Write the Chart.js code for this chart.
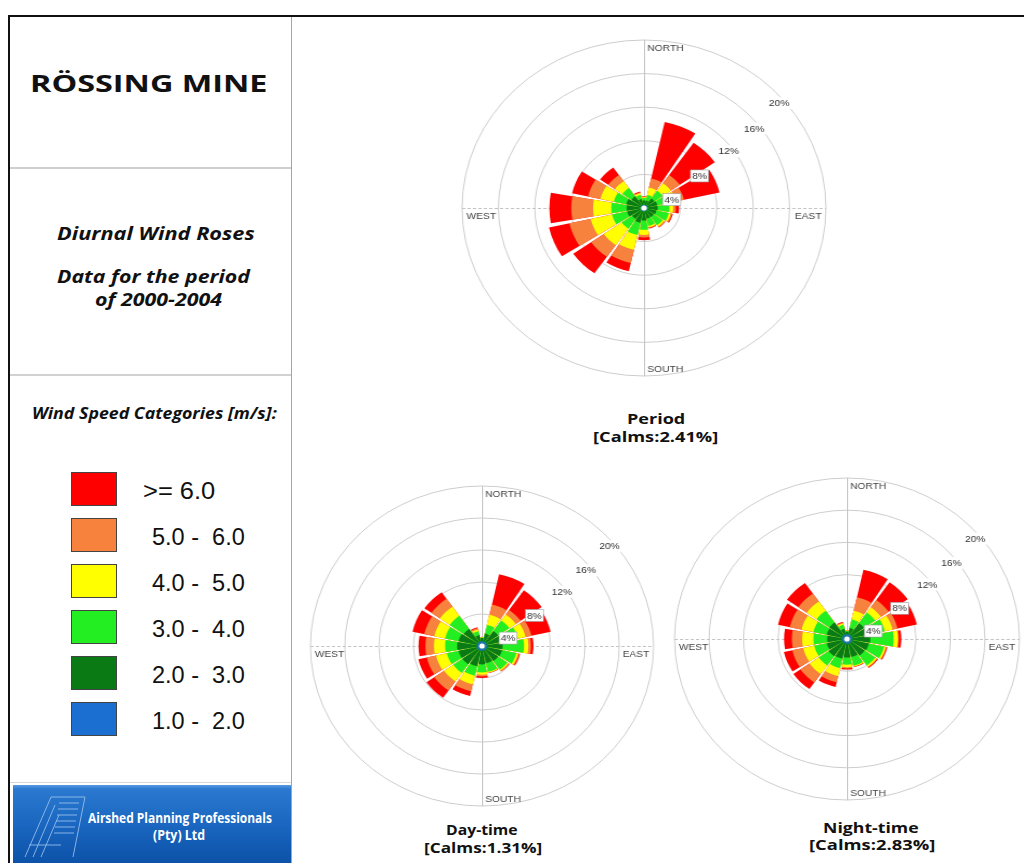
<!DOCTYPE html>
<html><head><meta charset="utf-8">
<script src="https://cdn.jsdelivr.net/npm/chart.js@4.4.1/dist/chart.umd.min.js"></script>
<style>
html,body{margin:0;padding:0;background:#fff;}
body{width:1024px;height:863px;overflow:hidden;position:relative;font-family:"Open Sans",sans-serif;}
.abs{position:absolute;}
.t{position:absolute;white-space:pre;transform-origin:0 50%;line-height:1;}
.rose{position:absolute;transform-origin:50% 50%;}
</style></head><body>
<script>
// ---------- DATA ----------
const directions = ['N','NNE','NE','ENE','E','ESE','SE','SSE','S','SSW','SW','WSW','W','WNW','NW','NNW'];
const speedCategories = ['1.0 -  2.0','2.0 -  3.0','3.0 -  4.0','4.0 -  5.0','5.0 -  6.0','>= 6.0'];
const categoryColors = ['#1b6fd0','#0a7a14','#22ee22','#ffff00','#f7823e','#ff0000'];
const tickValues = [4, 8, 12, 16, 20];
const tickLabels = ['4%', '8%', '12%', '16%', '20%'];
const compassLabels = ['NORTH', 'EAST', 'SOUTH', 'WEST'];

// Period (frequency %, per direction N..NNW)
const period_1_2 = [0.4,0.4,0.4,0.4,0.4,0.4,0.4,0.4,0.4,0.4,0.4,0.4,0.4,0.4,0.4,0.4];
const period_2_3 = [0.5,0.5,1.0,1.1,1.1,1.0,0.9,0.9,1.1,1.4,1.2,1.5,1.5,1.6,1.3,0.7];
const period_3_4 = [0.3,0.7,1.1,1.1,1.3,1.4,1.2,0.9,1.1,1.5,1.4,1.7,1.7,1.4,1.2,0.5];
const period_4_5 = [0.1,0.9,1.1,1.0,0.4,0.2,0.2,0.15,0.6,1.8,2.4,2.4,2.0,1.5,1.0,0.2];
const period_5_6 = [0.05,1.1,1.2,0.9,0.3,0.15,0.1,0.1,0.3,1.6,1.7,2.4,2.4,1.4,0.9,0.1];
const period_6up = [0.05,6.9,4.7,4.0,0.35,0.1,0.05,0.05,0.35,1.0,2.4,2.3,2.4,1.8,1.1,0.1];

// Day-time
const day_1_2 = [0.6,0.6,0.6,0.6,0.6,0.6,0.6,0.6,0.6,0.6,0.6,0.6,0.6,0.6,0.6,0.6];
const day_2_3 = [0.4,1.0,1.7,1.8,1.8,1.8,1.7,1.6,1.7,2.0,2.2,2.2,2.3,2.2,2.0,0.8];
const day_3_4 = [0.05,1.1,1.6,1.9,2.5,1.7,1.3,1.1,1.0,1.2,1.3,1.4,1.4,1.6,2.0,0.5];
const day_4_5 = [0.05,1.3,0.9,0.9,0.5,0.2,0.15,0.1,0.3,1.1,1.3,1.3,1.3,1.3,1.4,0.2];
const day_5_6 = [0.0,1.3,0.7,0.7,0.3,0.15,0.1,0.05,0.2,0.9,1.4,1.1,1.0,1.2,1.2,0.2];
const day_6up = [0.05,3.9,3.0,2.3,0.3,0.1,0.05,0.05,0.2,0.6,1.1,1.0,0.8,1.4,1.0,0.1];

// Night-time
const night_1_2 = [0.6,0.6,0.6,0.6,0.6,0.6,0.6,0.6,0.6,0.6,0.6,0.6,0.6,0.6,0.6,0.6];
const night_2_3 = [0.3,0.8,1.8,1.9,2.1,2.0,1.9,1.7,1.7,1.9,2.0,1.8,1.7,1.8,1.9,0.7];
const night_3_4 = [0.1,1.1,1.6,2.0,2.7,1.8,1.5,1.1,0.9,1.2,1.4,1.5,1.6,1.6,1.8,0.5];
const night_4_5 = [0.05,1.1,0.8,0.9,0.5,0.2,0.2,0.1,0.3,1.0,1.3,1.3,1.3,1.4,1.4,0.2];
const night_5_6 = [0.05,1.7,1.1,0.6,0.1,0.1,0.1,0.05,0.15,0.8,1.3,1.3,1.2,1.4,1.2,0.1];
const night_6up = [0.0,3.5,2.7,2.3,0.3,0.1,0.1,0.05,0.15,0.6,1.0,1.0,0.9,1.4,1.6,0.1];

const captions = [['Period','[Calms:2.41%]'],['Day-time','[Calms:1.31%]'],['Night-time','[Calms:2.83%]']];

// ---------- STYLE / LAYOUT ----------
const PETAL = 20, GAP = 2.5;
const GRID = '#cdcdcd';
const TICK_ANGLE = [72, 58, 54, 52, 50];
const TICK_FRAC = [0.8, 0.9, 0.96, 0.96, 0.97];

function txt(str, x, y, w, font, opts = {}) {
  const el = document.createElement('div');
  el.className = 't';
  el.textContent = str;
  el.style.font = font;
  el.style.lineHeight = '1';
  el.style.color = opts.color || '#111';
  document.body.appendChild(el);
  const ow = el.offsetWidth, oh = el.offsetHeight;
  const left = opts.align === 'left' ? x : x - w / 2;
  el.style.left = left + 'px';
  el.style.top = (y - oh / 2) + 'px';
  el.style.transform = 'scaleX(' + (w / ow) + ')';
  return el;
}
function box(x, y, w, h, css) {
  const el = document.createElement('div');
  el.className = 'abs';
  el.style.left = x + 'px'; el.style.top = y + 'px';
  el.style.width = w + 'px'; el.style.height = h + 'px';
  Object.assign(el.style, css);
  document.body.appendChild(el);
  return el;
}

// frame
box(8, 15, 1016, 2, {background: '#111'});
box(8, 15, 2, 848, {background: '#111'});
box(291, 17, 1, 846, {background: '#a5a5a5'});
box(10, 167, 281, 2, {background: '#cfcfcf'});
box(10, 374, 281, 2, {background: '#d2d2d2'});
box(10, 782, 281, 1, {background: '#d8d8d8'});

txt('RÖSSING MINE', 149, 83, 238, 'bold 23px "Open Sans"');
txt('Diurnal Wind Roses', 156, 233, 198, 'italic bold 18px "Open Sans"');
txt('Data for the period', 153.5, 276, 193, 'italic bold 18px "Open Sans"');
txt('of 2000-2004', 158.5, 299, 127, 'italic bold 18px "Open Sans"');
txt('Wind Speed Categories [m/s]:', 154.5, 413, 245, 'italic bold 16px "Open Sans"');

// legend (top = highest category)
const legendTop = 472, legendStep = 46;
for (let i = 0; i < speedCategories.length; i++) {
  const k = speedCategories.length - 1 - i;
  const y = legendTop + i * legendStep;
  box(71, y, 46, 34, {background: categoryColors[k], border: '1px solid #444', boxSizing: 'border-box'});
  const lab = speedCategories[k];
  if (lab.startsWith('>=')) txt(lab, 143, y + 19, 72, '23px "Liberation Sans"', {align: 'left'});
  else txt(lab, 151.5, y + 19, 93, '23px "Liberation Sans"', {align: 'left'});
}

// logo box
const logo = box(13, 785, 278, 78, {background: 'linear-gradient(#5a9ae0 0px, #2a78cf 4px, #1a66c0 40px, #0c52a8 78px)'});
logo.innerHTML = '<svg width="80" height="78" style="position:absolute;left:8px;top:10px" viewBox="0 0 80 78">' +
  '<g stroke="#9cc3ee" stroke-width="1" fill="none" opacity="0.85">' +
  '<path d="M4 62 L30 2 L64 2 L52 62"/><path d="M12 62 L34 10"/><path d="M20 62 L38 20"/>' +
  '<path d="M38 8 L58 8"/><path d="M37 14 L57 14"/><path d="M36 20 L56 20"/><path d="M35 26 L55 26"/>' +
  '<path d="M34 32 L54 32"/><path d="M33 38 L53 38"/><path d="M8 50 L40 50"/></g></svg>';
txt('Airshed Planning Professionals', 180, 817, 184, 'bold 15px "Open Sans"', {color: '#ffffff'});
txt('(Pty) Ltd', 179, 834, 52, 'bold 15px "Open Sans"', {color: '#ffffff'});

// captions
txt(captions[0][0], 656, 419, 58, 'bold 14px "Open Sans"');
txt(captions[0][1], 655, 437, 125, 'bold 14px "Open Sans"');
txt(captions[1][0], 482, 830, 72, 'bold 14px "Open Sans"');
txt(captions[1][1], 482.5, 848, 118, 'bold 14px "Open Sans"');
txt(captions[2][0], 871, 828, 96, 'bold 14px "Open Sans"');
txt(captions[2][1], 871.5, 845, 126, 'bold 14px "Open Sans"');

// ---------- ROSES ----------
function buildDatasets(bins) {
  let run = directions.map(() => 0);
  return bins.map((arr, k) => {
    run = run.map((v, i) => v + arr[i]);
    return {
      label: speedCategories[k],
      data: run.flatMap(v => [v, 0]),
      backgroundColor: categoryColors[k],
      borderWidth: 0,
      angle: ctx => (ctx.dataIndex % 2 ? GAP : PETAL)
    };
  });
}

const decor = {
  id: 'roseDecor',
  beforeDatasetsDraw(chart) {
    const s = chart.scales.r, ctx = chart.ctx, R = s.drawingArea, cx = s.xCenter, cy = s.yCenter;
    ctx.save();
    ctx.strokeStyle = '#c4c4c4'; ctx.lineWidth = 1;
    ctx.beginPath();
    ctx.moveTo(cx + 0.5, cy - R); ctx.lineTo(cx + 0.5, cy + R);
    ctx.stroke();
    ctx.setLineDash([3, 2]);
    ctx.beginPath();
    ctx.moveTo(cx - R, cy + 0.5); ctx.lineTo(cx + R, cy + 0.5);
    ctx.stroke();
    ctx.restore();
  },
  afterDatasetsDraw(chart) {
    const s = chart.scales.r, ctx = chart.ctx, R = s.drawingArea, cx = s.xCenter, cy = s.yCenter;
    ctx.save();
    ctx.fillStyle = '#fff';
    ctx.beginPath(); ctx.arc(cx, cy, 2.6, 0, Math.PI * 2); ctx.fill();
    ctx.font = '9.5px "Liberation Sans"';
    ctx.textAlign = 'center'; ctx.textBaseline = 'middle';
    tickValues.forEach((v, i) => {
      const a = TICK_ANGLE[i] * Math.PI / 180;
      const d = s.getDistanceFromCenterForValue(v) * TICK_FRAC[i];
      const x = cx + d * Math.sin(a), y = cy - d * Math.cos(a);
      const w = ctx.measureText(tickLabels[i]).width;
      ctx.fillStyle = '#fff';
      ctx.fillRect(x - w / 2 - 1.5, y - 6, w + 3, 12);
      if (i < 2) { ctx.strokeStyle = '#9a9a9a'; ctx.lineWidth = 0.6; ctx.strokeRect(x - w / 2 - 1.5, y - 6, w + 3, 12); }
      ctx.fillStyle = '#333';
      ctx.fillText(tickLabels[i], x, y + 0.5);
    });
    ctx.fillStyle = '#444';
    ctx.textAlign = 'left';
    ctx.fillText(compassLabels[0], cx + 3, cy - R + 8);
    ctx.fillText(compassLabels[2], cx + 3, cy + R - 7);
    ctx.fillText(compassLabels[3], cx - R + 4, cy + 8);
    ctx.textAlign = 'right';
    ctx.fillText(compassLabels[1], cx + R - 4, cy + 8);
    ctx.restore();
  }
};

const roses = [
  {bins: [period_1_2, period_2_3, period_3_4, period_4_5, period_5_6, period_6up], cx: 644.3, cy: 208, R: 168, k: 1.083},
  {bins: [day_1_2, day_2_3, day_3_4, day_4_5, day_5_6, day_6up], cx: 481.5, cy: 645.5, R: 160, k: 1.072},
  {bins: [night_1_2, night_2_3, night_3_4, night_4_5, night_5_6, night_6up], cx: 847, cy: 638.5, R: 161, k: 1.071}
];

roses.forEach(r => {
  const S = 2 * r.R + 20;
  const wrap = document.createElement('div');
  wrap.className = 'rose';
  wrap.style.left = (r.cx - S / 2) + 'px';
  wrap.style.top = (r.cy - S / 2) + 'px';
  wrap.style.width = S + 'px'; wrap.style.height = S + 'px';
  wrap.style.transform = 'scaleX(' + r.k + ')';
  const cv = document.createElement('canvas');
  cv.width = S; cv.height = S;
  wrap.appendChild(cv);
  document.body.appendChild(wrap);
  new Chart(cv, {
    type: 'polarArea',
    data: { labels: directions.flatMap(d => [d, '']), datasets: buildDatasets(r.bins) },
    options: {
      responsive: false,
      animation: false,
      layout: { padding: 10 },
      plugins: { legend: { display: false }, tooltip: { enabled: false } },
      scales: {
        r: {
          min: 0, max: 20, startAngle: -PETAL / 2,
          ticks: { display: false, stepSize: 4 },
          grid: { color: GRID, lineWidth: 1, circular: true },
          angleLines: { display: false },
          pointLabels: { display: false }
        }
      }
    },
    plugins: [decor]
  });
});
</script>
</body></html>
